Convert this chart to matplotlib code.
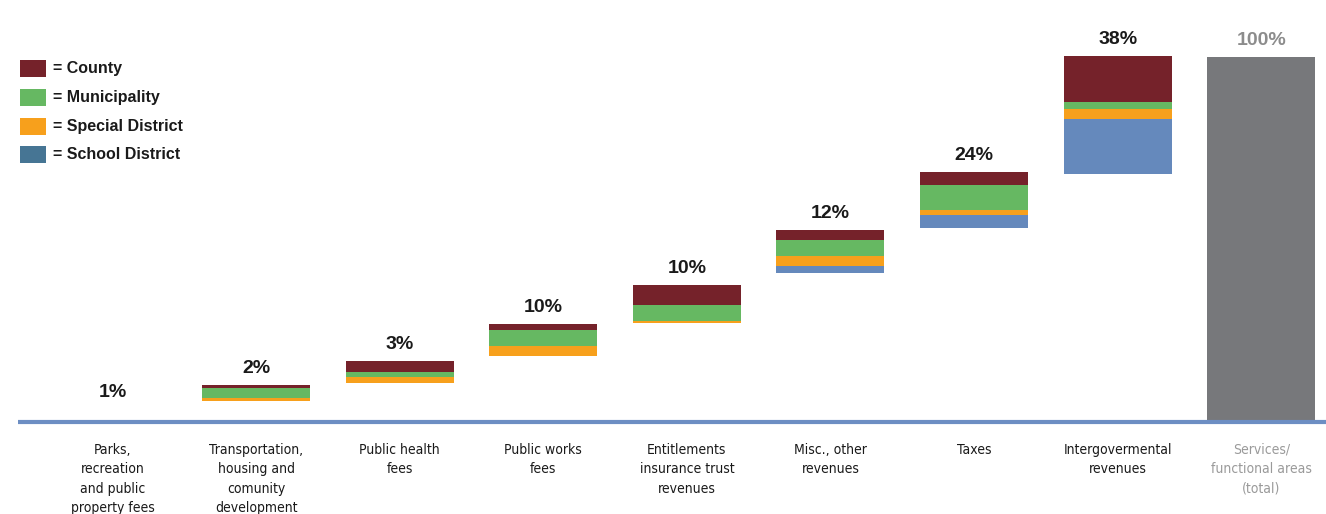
import matplotlib
matplotlib.use('Agg')
import matplotlib.pyplot as plt
from matplotlib.patches import Rectangle
from matplotlib import font_manager

plt.rcParams['font.family'] = ['Liberation Sans', 'DejaVu Sans']

# categories along the bottom
categories = ['Parks,\nrecreation\nand public\nproperty fees',
              'Transportation,\nhousing and\ncomunity\ndevelopment',
              'Public health\nfees',
              'Public works\nfees',
              'Entitlements\ninsurance trust\nrevenues',
              'Misc., other\nrevenues',
              'Taxes',
              'Intergovermental\nrevenues',
              'Services/\nfunctional areas\n(total)']
pct_labels = ['1%', '2%', '3%', '10%', '10%', '12%', '24%', '38%', '100%']

# floating waterfall: base of each bar plus the stacked pieces (in % of total)
base    = [3.6, 5.75, 10.68, 18.08, 27.04, 40.82, 53.15, 67.95, 0]
school  = [0, 0, 0, 0, 0, 1.92, 3.56, 15.07, 0]
special = [0, 0.90, 1.64, 2.74, 0.55, 2.74, 1.37, 2.74, 0]
muni    = [0, 2.66, 1.37, 4.38, 4.47, 4.38, 6.85, 1.92, 0]
county  = [0, 0.82, 3.01, 1.64, 5.48, 2.74, 3.56, 12.60, 0]
total   = [0, 0, 0, 0, 0, 0, 0, 0, 100]

c_county = '#75222a'
c_muni = '#66b862'
c_special = '#f7a01c'
c_school = '#6589bc'
c_school_leg = '#467594'
c_total = '#77787b'
c_base = '#6d8ec3'

# narrow face for the category names, if there is one
narrow = [f.fname for f in font_manager.fontManager.ttflist
          if ('Narrow' in f.fname or 'Condensed' in f.fname) and 'Bold' not in f.fname
          and 'Oblique' not in f.fname and 'Italic' not in f.fname]
if narrow:
    cat_font = font_manager.FontProperties(fname=sorted(narrow)[0], size=10)
else:
    cat_font = font_manager.FontProperties(family='Liberation Sans', size=8.6)

W, H = 1326, 514
fig = plt.figure(figsize=(W / 100, H / 100), dpi=100)
ax = fig.add_axes([0, 0, 1, 1])
ax.set_xlim(-0.783, 8.451)
ax.set_ylim(-25.2, 115.6)
ax.axis('off')

x = list(range(len(categories)))
bw = 0.752
bottom = list(base)
for vals, col in [(school, c_school), (special, c_special), (muni, c_muni), (county, c_county), (total, c_total)]:
    ax.bar(x, vals, bw, bottom=bottom, color=col, linewidth=0)
    bottom = [b + v for b, v in zip(bottom, vals)]

# baseline
ax.plot([18 / W * (8.451 + 0.783) - 0.783, 8.451], [0, 0], color=c_base, lw=3, solid_capstyle='butt', zorder=3)

for i in x:
    last = i == len(x) - 1
    ax.annotate(pct_labels[i], xy=(i, bottom[i]), xytext=(0, 8.6), textcoords='offset points',
                ha='center', va='baseline', fontsize=14, fontweight='bold',
                color='#8c8c8c' if last else '#1a1a1a')
    ax.annotate(categories[i], xy=(i, 0), xytext=(0, -15), textcoords='offset points',
                ha='center', va='top', fontproperties=cat_font, linespacing=1.5,
                color='#9a9a9a' if last else '#1a1a1a')

# legend
legend = [('= County', c_county), ('= Municipality', c_muni),
          ('= Special District', c_special), ('= School District', c_school_leg)]
for i, (name, col) in enumerate(legend):
    top = 60 + 28.8 * i
    fig.add_artist(Rectangle((20 / W, 1 - (top + 17) / H), 26 / W, 17 / H,
                             transform=fig.transFigure, color=col, lw=0))
    fig.text(53 / W, 1 - (top + 8.5) / H, name, ha='left', va='center',
             fontsize=11.5, fontweight='bold', color='#1a1a1a')

fig.savefig('out.png', dpi=100)
